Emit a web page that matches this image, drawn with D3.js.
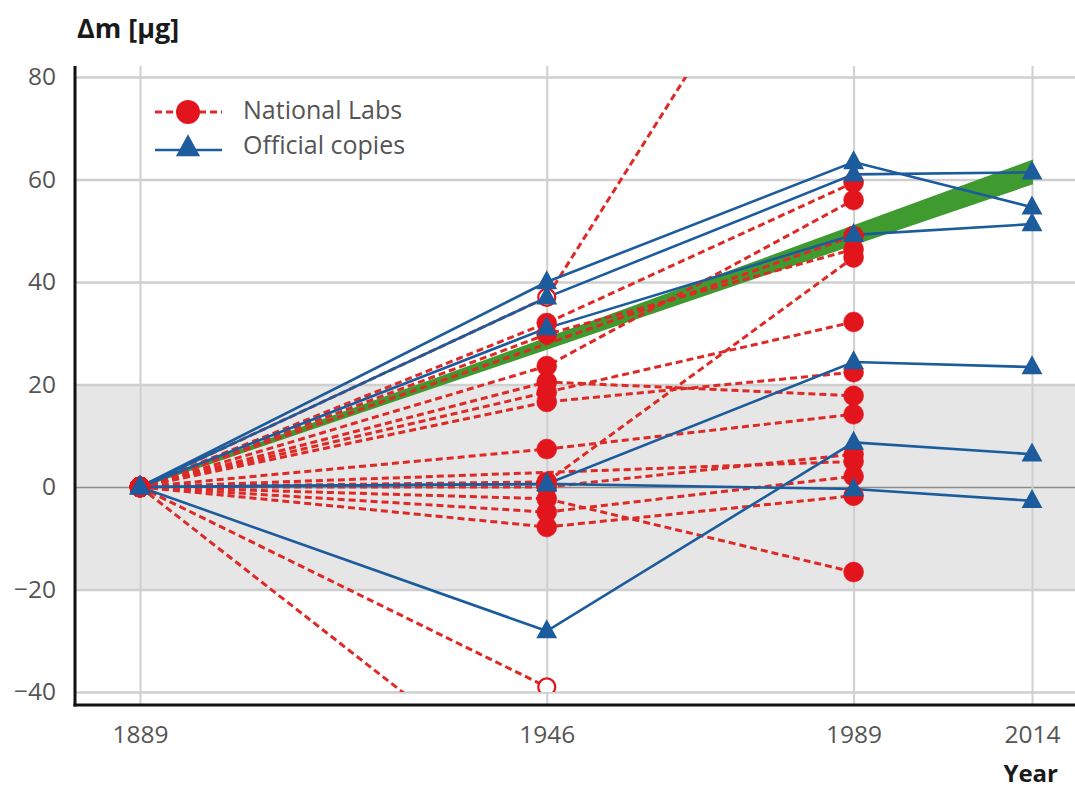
<!DOCTYPE html>
<html>
<head>
<meta charset="utf-8">
<script src="https://cdn.jsdelivr.net/npm/d3@7"></script>
<style>
  body { margin: 0; background: #fff; }
  text { font-family: "Open Sans", "Noto Sans", sans-serif; }
</style>
</head>
<body>
<svg id="chart" width="1075" height="790"></svg>
<script>
// Measurement campaigns (years) and value ticks
const years = [1889, 1946, 1989, 2014];
const yTicks = [-40, -20, 0, 20, 40, 60, 80];

// National laboratory prototypes: mass change [µg] at 1889, 1946, 1989 (null = not measured)
const labSeries = [
  [0, 37, 132],
  [0, 32, 59.4],
  [0, 29.8, 46.4],
  [0, 23.6, 56],
  [0, 20.5, 17.8],
  [0, 18.5, 32.2],
  [0, 16.6, 22.4],
  [0, 7.4, 14.2],
  [0, 1, 44.8],
  [0, 0, 6.4],
  [0, -2.3, -16.6],
  [0, -4.9, 2.1],
  [0, -7.8, -1.7],
  [0, -39, null],
  [0, -62, null],
  [0, null, 49],
  [0, null, 5]
];
// Values shown with hollow markers
const labOpenMarks = [[1946, 37], [1946, -39]];

// Official copies: mass change [µg] at 1889, 1946, 1989, 2014
const copySeries = [
  [0, 40, 63.4, 54.6],
  [0, 37, 61, 61.4],
  [0, 31, 49.2, 51.3],
  [0, 0.6, 24.4, 23.4],
  [0, -28.1, 8.7, 6.4],
  [0, 0.6, -0.4, -2.7]
];

// Trend band of the copies relative to the international prototype
const trendYears = [1889, 2014];
const trendLow = [0, 59.2];
const trendHigh = [0, 63.6];

const legendLabels = ["National Labs", "Official copies"];

const RED = "#e2141c";
const RED_LINE = "#de2a26";
const BLUE = "#1c5c9d";
const GREEN = "#3f9a30";
const DASH = "7,4";

const svg = d3.select("#chart");
const plotLeft = 75, plotRight = 1075, plotTop = 66, plotBottom = 705;

const x = d3.scaleLinear().domain([1889, 2014]).range([140, 1032]);
const y = d3.scaleLinear().domain([-40, 80]).range([692, 77]);

// Shaded ±20 µg zone
svg.append("rect")
  .attr("x", plotLeft).attr("width", plotRight - plotLeft)
  .attr("y", y(20)).attr("height", y(-20) - y(20))
  .attr("fill", "#e6e6e6");

// Horizontal grid + value labels
const yAxis = svg.append("g")
  .attr("transform", `translate(${plotLeft},0)`)
  .call(d3.axisLeft(y).tickValues(yTicks).tickSize(-(plotRight - plotLeft)).tickPadding(19)
    .tickFormat(d => d < 0 ? "\u2212" + Math.abs(d) : d));
yAxis.select(".domain").remove();
yAxis.selectAll(".tick line")
  .attr("stroke", d => d === 0 ? "#8c8c8c" : "#cfcfcf")
  .attr("stroke-width", d => d === 0 ? 1.6 : 2.4);
yAxis.selectAll(".tick text")
  .attr("fill", "#555").attr("font-size", 24.5);

// Vertical grid + year labels
const xAxis = svg.append("g")
  .attr("transform", `translate(0,${plotBottom})`)
  .call(d3.axisBottom(x).tickValues(years).tickSize(-(plotBottom - plotTop)).tickPadding(21)
    .tickFormat(d3.format("d")));
xAxis.select(".domain").remove();
xAxis.selectAll(".tick line").attr("stroke", "#cfcfcf").attr("stroke-width", 2);
xAxis.selectAll(".tick text").attr("fill", "#555").attr("font-size", 24.5);

// Axis lines
svg.append("line").attr("x1", plotLeft).attr("x2", plotLeft).attr("y1", plotTop).attr("y2", plotBottom + 1.5)
  .attr("stroke", "#111").attr("stroke-width", 3);
svg.append("line").attr("x1", plotLeft - 1.5).attr("x2", plotRight).attr("y1", plotBottom).attr("y2", plotBottom)
  .attr("stroke", "#111").attr("stroke-width", 3);

// Clip marks to the value range
svg.append("clipPath").attr("id", "plot-clip")
  .append("rect").attr("x", plotLeft).attr("y", y(80))
  .attr("width", plotRight - plotLeft).attr("height", y(-40) - y(80));
const plot = svg.append("g").attr("clip-path", "url(#plot-clip)");

// Trend band
const bandData = trendYears.map((yr, i) => ({ yr, lo: trendLow[i], hi: trendHigh[i] }));
plot.append("path")
  .datum(bandData)
  .attr("d", d3.area().x(d => x(d.yr)).y0(d => y(d.lo)).y1(d => y(d.hi)))
  .attr("fill", GREEN).attr("stroke", GREEN).attr("stroke-width", 2);

const toPoints = s => years.slice(0, s.length).map((yr, i) => [yr, s[i]]).filter(p => p[1] != null);
const line = d3.line().x(p => x(p[0])).y(p => y(p[1]));

// National lab lines
plot.append("g").selectAll("path")
  .data(labSeries.map(toPoints))
  .join("path")
  .attr("d", line)
  .attr("fill", "none").attr("stroke", RED_LINE)
  .attr("stroke-width", 3).attr("stroke-dasharray", DASH);

// Official copy lines
plot.append("g").selectAll("path")
  .data(copySeries.map(toPoints))
  .join("path")
  .attr("d", line)
  .attr("fill", "none").attr("stroke", BLUE).attr("stroke-width", 2.6);

// National lab markers
const isOpen = p => labOpenMarks.some(m => m[0] === p[0] && m[1] === p[1]);
const labPoints = labSeries.flatMap(toPoints);
plot.append("g").selectAll("circle")
  .data(labPoints)
  .join("circle")
  .attr("cx", p => x(p[0])).attr("cy", p => y(p[1]))
  .attr("r", p => isOpen(p) ? 8.5 : 10)
  .attr("fill", p => isOpen(p) ? "#fff" : RED)
  .attr("stroke", RED).attr("stroke-width", p => isOpen(p) ? 2.2 : 0.5);

// Official copy markers
const tri = s => `M0,${-s * 0.62}L${s * 0.55},${s * 0.38}L${-s * 0.55},${s * 0.38}Z`;
const copyPoints = copySeries.flatMap(toPoints);
plot.append("g").selectAll("path")
  .data(copyPoints)
  .join("path")
  .attr("transform", p => `translate(${x(p[0])},${y(p[1])})`)
  .attr("d", tri(19))
  .attr("fill", BLUE);

// Legend
const lg = svg.append("g");
lg.append("line").attr("x1", 155).attr("x2", 222).attr("y1", 112).attr("y2", 112)
  .attr("stroke", RED_LINE).attr("stroke-width", 3).attr("stroke-dasharray", DASH);
lg.append("circle").attr("cx", 188).attr("cy", 112).attr("r", 12).attr("fill", RED);
lg.append("line").attr("x1", 155).attr("x2", 222).attr("y1", 150).attr("y2", 150)
  .attr("stroke", BLUE).attr("stroke-width", 2.6);
lg.append("path").attr("transform", "translate(188,148)").attr("d", tri(22)).attr("fill", BLUE);
lg.selectAll("text")
  .data(legendLabels)
  .join("text")
  .attr("x", 243).attr("y", (d, i) => 119 + i * 35)
  .attr("font-size", 25).attr("fill", "#555")
  .text(d => d);

// Axis titles
svg.append("text").attr("x", 77).attr("y", 38)
  .attr("font-size", 27).attr("font-weight", 700).attr("fill", "#1a1a1a")
  .text("\u0394m [\u00b5g]");
svg.append("text").attr("x", 1058).attr("y", 782).attr("text-anchor", "end")
  .attr("font-size", 24).attr("font-weight", 700).attr("fill", "#1a1a1a")
  .text("Year");
</script>
</body>
</html>
